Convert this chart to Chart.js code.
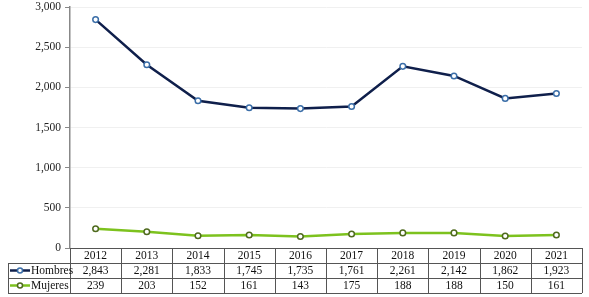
<!DOCTYPE html>
<html><head><meta charset="utf-8">
<script src="https://cdn.jsdelivr.net/npm/chart.js@4"></script>
<style>html,body{margin:0;padding:0;background:#fff}#c{display:block}</style>
</head><body>
<canvas id="c" width="589" height="297"></canvas>
<script>
const categories = ['2012','2013','2014','2015','2016','2017','2018','2019','2020','2021'];
const hombres = [2843,2281,1833,1745,1735,1761,2261,2142,1862,1923];
const mujeres = [239,203,152,161,143,175,188,188,150,161];
const seriesNames = ['Hombres','Mujeres'];
const yTicks = [0,500,1000,1500,2000,2500,3000];

const FONT = '"Liberation Serif", "DejaVu Serif", serif';
const colH = '#0f1f4b', colHm = '#3b6ea8';
const colM = '#7dc21e', colMm = '#4f6a1e';

const tablePlugin = {
  id: 'dataTable',
  afterDraw(chart) {
    const ctx = chart.ctx, xs = chart.scales.x, area = chart.chartArea;
    const top = area.bottom, rowH = 15, n = categories.length;
    const step = (area.right - area.left) / n;
    const legL = 8;
    ctx.save();
    ctx.strokeStyle = '#555'; ctx.lineWidth = 1;
    const px = v => Math.round(v) + 0.5;
    ctx.beginPath();
    ctx.moveTo(area.left, px(top)); ctx.lineTo(area.right, px(top));
    for (let r = 1; r <= 3; r++) { ctx.moveTo(legL, px(top + r*rowH)); ctx.lineTo(area.right, px(top + r*rowH)); }
    for (let i = 0; i <= n; i++) { const x = px(area.left + i*step); ctx.moveTo(x, top); ctx.lineTo(x, top + 3*rowH); }
    ctx.moveTo(px(legL), top + rowH); ctx.lineTo(px(legL), top + 3*rowH);
    ctx.stroke();
    ctx.fillStyle = '#111'; ctx.font = '11.5px ' + FONT;
    ctx.textAlign = 'center'; ctx.textBaseline = 'middle';
    const rows = [hombres, mujeres];
    categories.forEach((c, i) => {
      const x = xs.getPixelForValue(i);
      ctx.fillText(c, x, top + rowH/2 + 0.5);
      rows.forEach((arr, r) => ctx.fillText(arr[i].toLocaleString('en-US'), x, top + (r+1)*rowH + rowH/2 + 0.5));
    });
    const cols = [[colH, colHm], [colM, colMm]];
    seriesNames.forEach((name, r) => {
      const y = top + (r+1)*rowH + rowH/2;
      ctx.strokeStyle = cols[r][0]; ctx.lineWidth = 2.5;
      ctx.beginPath(); ctx.moveTo(10, y); ctx.lineTo(30, y); ctx.stroke();
      ctx.fillStyle = '#fff'; ctx.strokeStyle = cols[r][1]; ctx.lineWidth = 1.5;
      ctx.beginPath(); ctx.arc(20, y, 2.5, 0, Math.PI*2); ctx.fill(); ctx.stroke();
      ctx.fillStyle = '#111'; ctx.textAlign = 'left';
      ctx.fillText(name, 31, y + 0.5);
    });
    ctx.restore();
  }
};

new Chart(document.getElementById('c'), {
  type: 'line',
  data: {
    labels: categories,
    datasets: [
      { label: seriesNames[0], data: hombres, borderColor: colH, borderWidth: 2.5,
        pointBackgroundColor: '#fff', pointBorderColor: colHm, pointBorderWidth: 1.5, pointRadius: 2.8, tension: 0 },
      { label: seriesNames[1], data: mujeres, borderColor: colM, borderWidth: 2.5,
        pointBackgroundColor: '#fff', pointBorderColor: colMm, pointBorderWidth: 1.5, pointRadius: 2.8, tension: 0 }
    ]
  },
  options: {
    responsive: false, animation: false,
    layout: { padding: { left: 0, right: 7, top: 7, bottom: 0 } },
    plugins: { legend: { display: false }, tooltip: { enabled: false } },
    scales: {
      x: {
        offset: true,
        ticks: { display: false },
        grid: { display: false },
        border: { display: false },
        afterFit: s => { s.height = 49; }
      },
      y: {
        min: 0, max: 3000,
        afterBuildTicks: s => { s.ticks = yTicks.map(v => ({ value: v })); },
        ticks: { font: { family: FONT, size: 11.5 }, color: '#222', padding: 4,
          callback: v => v.toLocaleString('en-US') },
        grid: { color: '#f0f0f0', tickColor: '#888', tickLength: 5 },
        border: { color: '#888', width: 1.5 },
        afterFit: s => { s.width = 70; s.paddingTop = 0; s.paddingBottom = 0; }
      }
    }
  },
  plugins: [tablePlugin]
});
</script>
</body></html>
